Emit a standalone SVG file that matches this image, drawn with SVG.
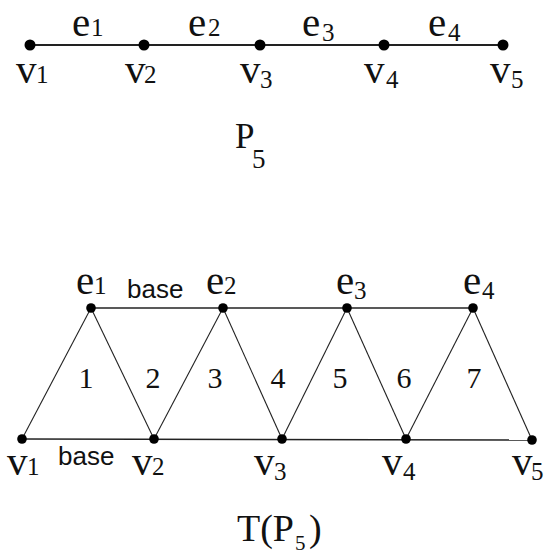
<svg xmlns="http://www.w3.org/2000/svg" width="547" height="556" viewBox="0 0 547 556">
<style>
.bg{fill:#ffffff}
.edge{stroke:#222;fill:none}
.top{stroke-width:2}
.hz{stroke-width:1.6}
.dg{stroke-width:1.1}
.dot{fill:#000}
.let{font-family:"Liberation Serif","DejaVu Serif",serif;font-size:41px;fill:#111}
.dig{font-family:"Liberation Serif","DejaVu Serif",serif;font-size:25px;fill:#111}
.num{font-family:"Liberation Serif",serif;font-size:30px;fill:#111;text-anchor:middle}
.base{font-family:"Liberation Sans",sans-serif;font-size:26px;fill:#111}
.title{font-family:"Liberation Serif",serif;fill:#111}
</style>
<rect class="bg" x="0" y="0" width="547" height="556"/>

<!-- Path P5 -->
<g id="connectors-p5">
  <line class="edge top" x1="30" y1="45" x2="503" y2="45"/>
</g>
<g id="p5-v1"><circle class="dot" cx="30" cy="45" r="5.5"/><text class="let" x="16" y="83">v</text><text class="dig" x="36" y="83">1</text></g>
<g id="p5-v2"><circle class="dot" cx="144" cy="45" r="5.5"/><text class="let" x="125" y="83">v</text><text class="dig" x="144" y="83">2</text></g>
<g id="p5-v3"><circle class="dot" cx="260" cy="45" r="5.5"/><text class="let" x="240" y="83">v</text><text class="dig" x="260" y="88">3</text></g>
<g id="p5-v4"><circle class="dot" cx="384" cy="45" r="5.5"/><text class="let" x="364" y="83">v</text><text class="dig" x="386" y="88">4</text></g>
<g id="p5-v5"><circle class="dot" cx="503" cy="45" r="5.5"/><text class="let" x="490" y="83">v</text><text class="dig" x="511" y="88">5</text></g>
<g id="p5-edge-labels">
  <text class="let" x="72" y="36">e</text><text class="dig" x="91" y="36">1</text>
  <text class="let" x="188" y="36">e</text><text class="dig" x="208" y="36">2</text>
  <text class="let" x="302" y="36">e</text><text class="dig" x="322" y="41">3</text>
  <text class="let" x="428" y="36">e</text><text class="dig" x="448" y="41">4</text>
</g>
<g id="title-p5">
  <text class="title" x="235" y="148" font-size="35">P</text>
  <text class="title" x="252" y="168" font-size="27">5</text>
</g>

<!-- T(P5) -->
<g id="connectors-tp5">
  <line class="edge hz" x1="91" y1="308" x2="473" y2="308"/>
  <line class="edge hz" x1="22" y1="439" x2="532" y2="440"/>
  <line class="edge dg" x1="22" y1="439" x2="91" y2="308"/>
  <line class="edge dg" x1="91" y1="308" x2="154" y2="439"/>
  <line class="edge dg" x1="154" y1="439" x2="223" y2="308"/>
  <line class="edge dg" x1="223" y1="308" x2="282" y2="439"/>
  <line class="edge dg" x1="282" y1="439" x2="347" y2="308"/>
  <line class="edge dg" x1="347" y1="308" x2="406" y2="439"/>
  <line class="edge dg" x1="406" y1="439" x2="473" y2="308"/>
  <line class="edge dg" x1="473" y1="308" x2="532" y2="440"/>
</g>
<g id="t-e1"><circle class="dot" cx="91" cy="308" r="4.8"/><text class="let" x="76" y="294">e</text><text class="dig" x="94" y="294">1</text></g>
<g id="t-e2"><circle class="dot" cx="223" cy="308" r="4.8"/><text class="let" x="206" y="294">e</text><text class="dig" x="224" y="294">2</text></g>
<g id="t-e3"><circle class="dot" cx="347" cy="308" r="4.8"/><text class="let" x="336" y="294">e</text><text class="dig" x="354" y="299">3</text></g>
<g id="t-e4"><circle class="dot" cx="473" cy="308" r="4.8"/><text class="let" x="463" y="294">e</text><text class="dig" x="482" y="299">4</text></g>
<g id="t-v1"><circle class="dot" cx="22" cy="439" r="4.8"/><text class="let" x="7" y="475">v</text><text class="dig" x="27" y="475">1</text></g>
<g id="t-v2"><circle class="dot" cx="154" cy="439" r="4.8"/><text class="let" x="132" y="475">v</text><text class="dig" x="152" y="475">2</text></g>
<g id="t-v3"><circle class="dot" cx="282" cy="439" r="4.8"/><text class="let" x="254" y="475">v</text><text class="dig" x="274" y="480">3</text></g>
<g id="t-v4"><circle class="dot" cx="406" cy="439" r="4.8"/><text class="let" x="382" y="475">v</text><text class="dig" x="403" y="480">4</text></g>
<g id="t-v5"><circle class="dot" cx="532" cy="440" r="4.8"/><text class="let" x="512" y="475">v</text><text class="dig" x="531" y="480">5</text></g>
<g id="base-labels">
  <text class="base" x="127" y="298">base</text>
  <text class="base" x="58" y="465">base</text>
</g>
<g id="face-numbers">
  <text class="num" x="86" y="388">1</text>
  <text class="num" x="153" y="388">2</text>
  <text class="num" x="215" y="388">3</text>
  <text class="num" x="278" y="388">4</text>
  <text class="num" x="340" y="388">5</text>
  <text class="num" x="404" y="388">6</text>
  <text class="num" x="474" y="388">7</text>
</g>
<g id="title-tp5">
  <text class="title" x="237" y="541" font-size="38">T(P</text>
  <text class="title" x="295" y="550" font-size="21">5</text>
  <text class="title" x="309" y="541" font-size="38">)</text>
</g>
</svg>
